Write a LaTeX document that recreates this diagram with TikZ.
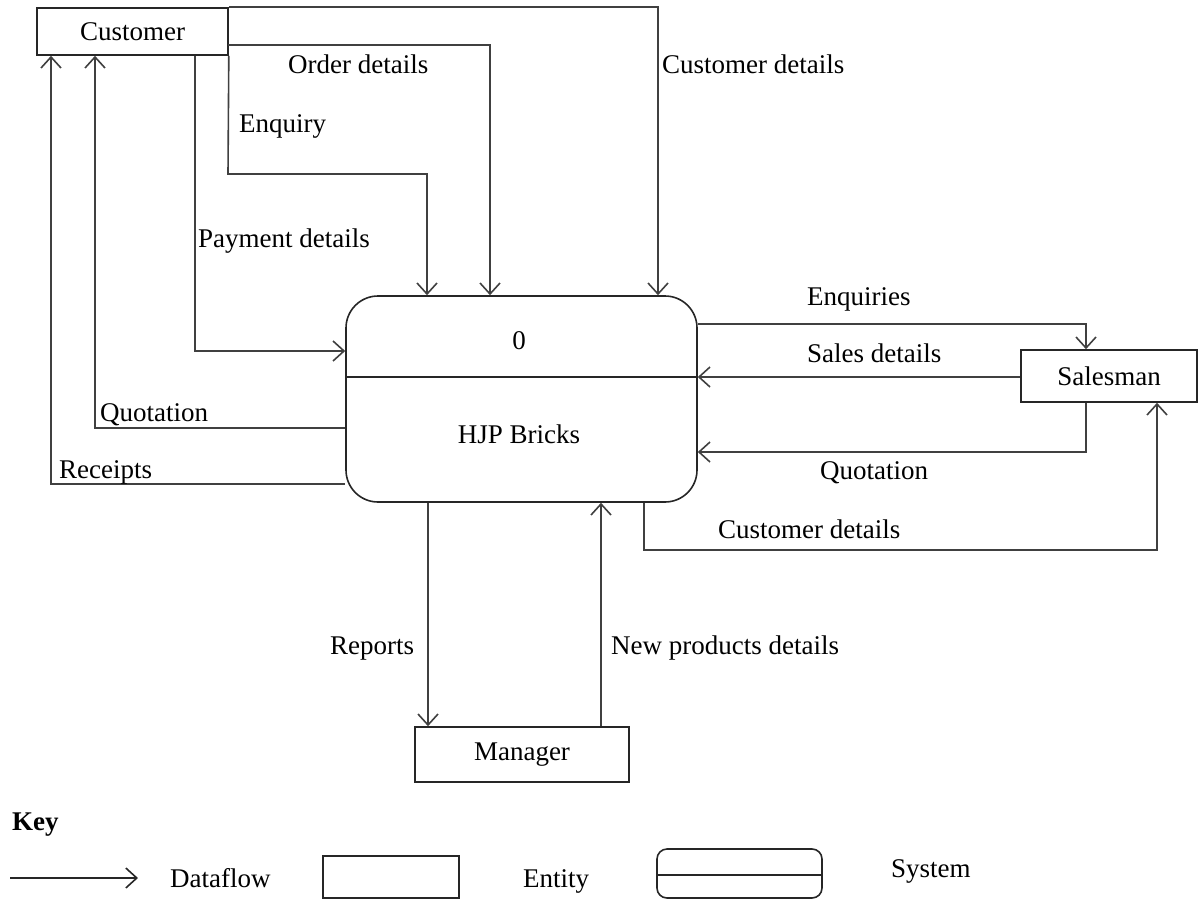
\documentclass[tikz,border=0pt]{standalone}
\usepackage{fontspec}
\setmainfont{Liberation Serif}
\usetikzlibrary{arrows.meta}
\begin{document}
\begin{tikzpicture}[x=1pt,y=-1pt,
  every node/.style={font=\fontsize{27}{32}\selectfont},
  entity/.style={draw=black!85, line width=1.6pt, inner sep=0},
  system/.style={draw=black!85, line width=1.6pt, rounded corners=32pt, inner sep=0},
  flow/.style={draw=black!75, line width=1.6pt,
    -{Straight Barb[length=11pt,width=20pt,line width=1.6pt]}},
  plain/.style={draw=black!75, line width=1.6pt},
  lbl/.style={anchor=base west, inner sep=0}]
\useasboundingbox (0,0) rectangle (1198,899);

% entities and the process
\node[entity, minimum width=191pt, minimum height=47pt] (cust) at (132.5,31.5) {Customer};
\node[entity, minimum width=176pt, minimum height=52pt] (sales) at (1109,376) {Salesman};
\node[entity, minimum width=214pt, minimum height=55pt] (mgr) at (522,754.5) {Manager};
\node[system, minimum width=351pt, minimum height=206pt] (sys) at (521.5,399) {};
\draw[plain, draw=black!85] (sys.west |- 0,377) -- (sys.east |- 0,377);
\node[anchor=base, inner sep=0] (pid) at (519,349) {0};
\node[anchor=base, inner sep=0] (pname) at (519,443) {HJP Bricks};

% flows between Customer and the process
\draw[flow] (cust.north east) -| (658,0 |- sys.north);
\draw[flow] (228,45) -| (490,0 |- sys.north);
\draw[flow] (cust.south east) -- (228,174) -| (427,0 |- sys.north);
\draw[flow] (195,0 |- cust.south) |- (sys.west |- 0,351);
\draw[flow] (sys.west |- 0,428) -| (95,0 |- cust.south);
\draw[flow] (sys.west |- 0,484) -| (51,0 |- cust.south);

% flows between the process and Salesman
\draw[flow] (sys.east |- 0,324) -| (1086,0 |- sales.north);
\draw[flow] (sales.west |- 0,377) -- (sys.east |- 0,377);
\draw[flow] (1086,0 |- sales.south) |- (sys.east |- 0,452);
\draw[flow] (644,0 |- sys.south) |- (1157,550) -- (1157,0 |- sales.south);

% flows between the process and Manager
\draw[flow] (428,0 |- sys.south) -- (428,0 |- mgr.north);
\draw[flow] (601,0 |- mgr.north) -- (601,0 |- sys.south);

% flow labels
\node[lbl] (l1) at (288,74) {Order details};
\node[lbl] (l2) at (239,132) {Enquiry};
\node[lbl] (l3) at (662,74) {Customer details};
\node[lbl] (l4) at (198,247) {Payment details};
\node[lbl] (l5) at (100,421) {Quotation};
\node[lbl] (l6) at (59,478) {Receipts};
\node[lbl] (l7) at (807,305) {Enquiries};
\node[lbl] (l8) at (807,362) {Sales details};
\node[lbl] (l9) at (820,479) {Quotation};
\node[lbl] (l10) at (718,538) {Customer details};
\node[lbl] (l11) at (330,654) {Reports};
\node[lbl] (l12) at (611,654) {New products details};

% key
\node[lbl, font=\fontsize{27}{32}\selectfont\bfseries] (key) at (12,830) {Key};
\coordinate (ka) at (10,878);
\coordinate (kb) at (138,878);
\draw[flow, draw=black!85] (ka) -- (kb);
\node[lbl] (kd) at (170,887) {Dataflow};
\node[entity, minimum width=136pt, minimum height=42pt] (ke) at (391,877) {};
\node[lbl] (ket) at (523,887) {Entity};
\node[entity, rounded corners=10pt, minimum width=165pt, minimum height=49pt] (ks) at (739.5,873.5) {};
\draw[plain, draw=black!85] (ks.west |- 0,875) -- (ks.east |- 0,875);
\node[lbl] (kst) at (891,877) {System};
\end{tikzpicture}
\end{document}
